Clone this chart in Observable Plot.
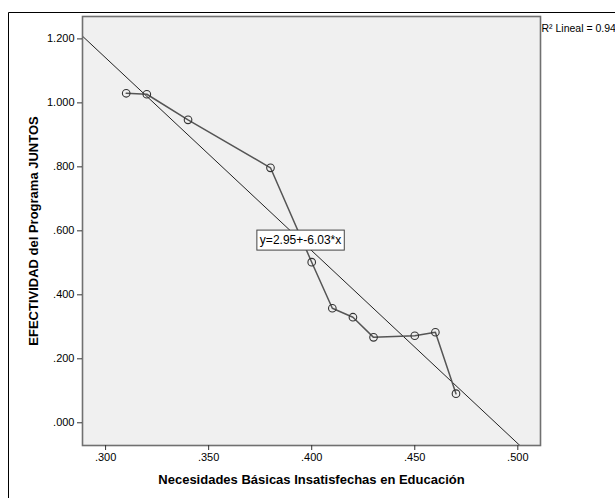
<!DOCTYPE html>
<html>
<head>
<meta charset="utf-8">
<script src="https://cdn.jsdelivr.net/npm/d3@7"></script>
<script src="https://cdn.jsdelivr.net/npm/@observablehq/plot@0.6"></script>
<style>
  html, body { margin: 0; padding: 0; background: #fff; overflow: hidden; }
  #chart { position: relative; width: 615px; height: 498px; }
</style>
</head>
<body>
<div id="chart"></div>
<script>
// ---- Data ----
const nbiEducacion = [0.31, 0.32, 0.34, 0.38, 0.40, 0.41, 0.42, 0.43, 0.45, 0.46, 0.47];
const efectividad  = [1.030, 1.027, 0.947, 0.797, 0.502, 0.358, 0.330, 0.267, 0.272, 0.283, 0.091];
const xTicks = [0.300, 0.350, 0.400, 0.450, 0.500];
const yTicks = [0.000, 0.200, 0.400, 0.600, 0.800, 1.000, 1.200];
const fitIntercept = 2.95;
const fitSlope = -6.03;
const r2Lineal = 0.94;
const xTitle = "Necesidades Básicas Insatisfechas en Educación";
const yTitle = "EFECTIVIDAD del Programa JUNTOS";
const eqLabelX = 0.3946;

// ---- Derived ----
const points = nbiEducacion.map((x, i) => ({x, y: efectividad[i]}));
const xDomain = [0.2888, 0.511];
const yDomain = [-0.071, 1.270];
const fitLine = xDomain.map(x => ({x, y: fitIntercept + fitSlope * x}));
const eqText = `y=${fitIntercept.toFixed(2)}+${fitSlope.toFixed(2)}*x`;
const eqPoint = [{x: eqLabelX, y: fitIntercept + fitSlope * eqLabelX, text: eqText}];
const r2Text = `R² Lineal = ${r2Lineal}`;
const fmt = d => d3.format(".3f")(d).replace(/^0\./, ".");

const plot = Plot.plot({
  width: 615,
  height: 498,
  marginLeft: 82,
  marginTop: 16,
  marginRight: 75,
  marginBottom: 53,
  style: {fontFamily: "'Liberation Sans', Arial, sans-serif", fontSize: "11px", background: "transparent", overflow: "visible", color: "#000"},
  x: {domain: xDomain},
  y: {domain: yDomain},
  marks: [
    Plot.frame({fill: "#f0f0f0", stroke: "none"}),
    Plot.line(fitLine, {x: "x", y: "y", stroke: "#222", strokeWidth: 1, clip: true}),
    Plot.line(points, {x: "x", y: "y", stroke: "#555", strokeWidth: 1.5}),
    Plot.dot(points, {x: "x", y: "y", r: 3.8, stroke: "#333", strokeWidth: 1.1, fill: "none"}),
    Plot.text(eqPoint, {x: "x", y: "y", text: "text", fontSize: 12, fill: "#000"}),
    Plot.frame({stroke: "#707070", strokeWidth: 1.6}),
    Plot.axisX({ticks: xTicks, tickFormat: fmt, tickSize: 5, tickPadding: 3, label: null, stroke: "#333"}),
    Plot.axisY({ticks: yTicks, tickFormat: fmt, tickSize: 5, tickPadding: 3, label: null, stroke: "#333"}),
    Plot.text([xTitle], {frameAnchor: "bottom", dy: 38, fontSize: 13, fontWeight: "bold", fill: "#000"}),
    Plot.text([yTitle], {frameAnchor: "left", dx: -49, rotate: -90, textAnchor: "middle", fontSize: 13, fontWeight: "bold", fill: "#000"}),
    Plot.text([r2Text], {frameAnchor: "top-right", dx: 1, dy: 8, textAnchor: "start", fontSize: 10.5, fill: "#000"})
  ]
});

document.getElementById("chart").appendChild(plot);

// box behind regression equation label
const svg = d3.select(plot);
svg.selectAll("text").filter(function() { return this.textContent === eqText; }).each(function() {
  const bb = this.getBBox();
  const tr = this.getAttribute("transform");
  const r = d3.select(this.parentNode).insert("rect", () => this)
    .attr("x", (+this.getAttribute("x") || 0) + bb.x - 3 - (+this.getAttribute("x") || 0))
    .attr("y", bb.y - 3)
    .attr("width", bb.width + 6).attr("height", bb.height + 6)
    .attr("fill", "#fff").attr("stroke", "#444").attr("stroke-width", 1);
  if (tr) r.attr("transform", tr);
});
// outer chart border (left + top)
svg.append("path")
  .attr("d", "M8.5,498 V12.5 H615")
  .attr("fill", "none").attr("stroke", "#000").attr("stroke-width", 1);
</script>
</body>
</html>
